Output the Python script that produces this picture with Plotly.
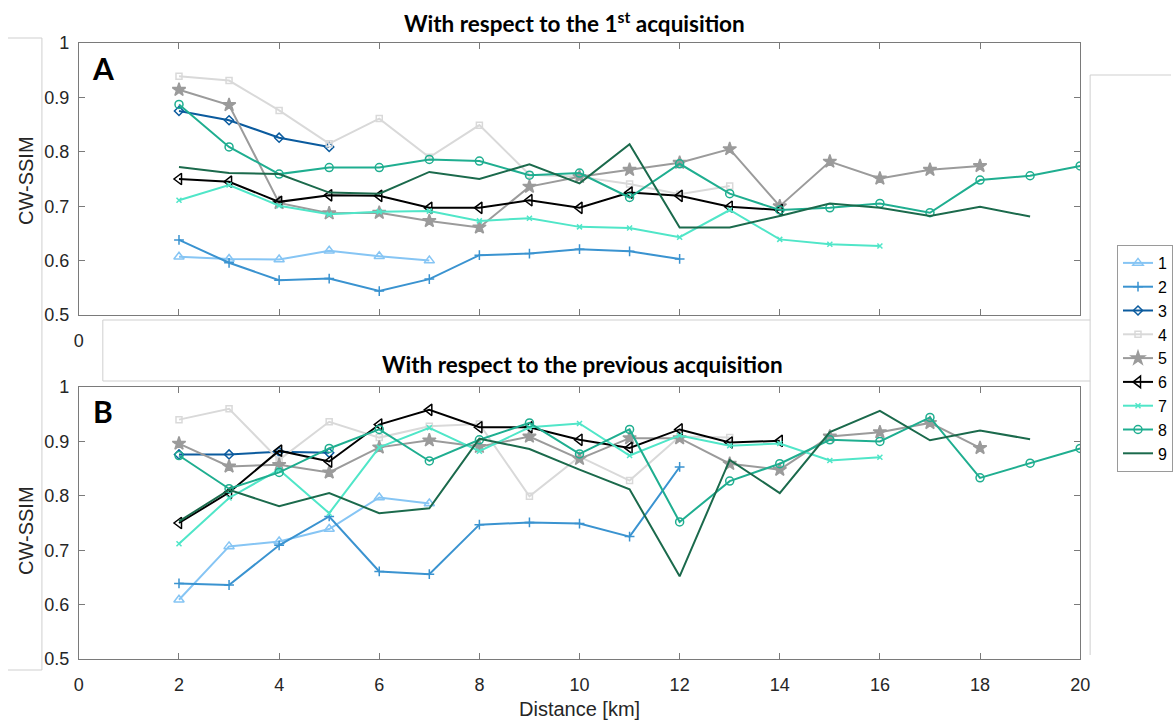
import plotly.graph_objects as go

W, H = 1173, 722

# ---------------- data ----------------
series_names = ["1", "2", "3", "4", "5", "6", "7", "8", "9"]
x_start = 2  # first distance (km) of every series

# Panel A: with respect to the 1st acquisition
a1 = [0.607, 0.603, 0.602, 0.618, 0.608, 0.600]
a2 = [0.638, 0.596, 0.564, 0.567, 0.544, 0.566, 0.610, 0.613, 0.621, 0.617, 0.603]
a3 = [0.875, 0.858, 0.826, 0.809]
a4 = [0.939, 0.931, 0.876, 0.815, 0.861, 0.790, 0.849, 0.758, 0.754, 0.741, 0.722, 0.737]
a5 = [0.914, 0.886, 0.706, 0.687, 0.688, 0.673, 0.661, 0.736, 0.754, 0.767, 0.780,
      0.805, 0.700, 0.782, 0.751, 0.767, 0.774]
a6 = [0.750, 0.745, 0.708, 0.720, 0.719, 0.697, 0.697, 0.711, 0.697, 0.725, 0.719, 0.699, 0.693]
a7 = [0.711, 0.739, 0.701, 0.685, 0.690, 0.691, 0.673, 0.678, 0.662, 0.660, 0.643,
      0.693, 0.639, 0.630, 0.627]
a8 = [0.887, 0.809, 0.759, 0.771, 0.771, 0.786, 0.783, 0.757, 0.761, 0.716, 0.778,
      0.723, 0.693, 0.697, 0.705, 0.688, 0.748, 0.756, 0.774]
a9 = [0.772, 0.761, 0.759, 0.725, 0.723, 0.763, 0.750, 0.777, 0.742, 0.814, 0.661,
      0.661, 0.682, 0.705, 0.697, 0.682, 0.699, 0.681]

# Panel B: with respect to the previous acquisition
b1 = [0.609, 0.707, 0.716, 0.739, 0.797, 0.786]
b2 = [0.639, 0.636, 0.709, 0.762, 0.661, 0.656, 0.747, 0.751, 0.749, 0.725, 0.853]
b3 = [0.876, 0.876, 0.881, 0.879]
b4 = [0.940, 0.960, 0.866, 0.936, 0.907, 0.928, 0.932, 0.799, 0.872, 0.828, 0.909, 0.907]
b5 = [0.896, 0.854, 0.857, 0.843, 0.889, 0.902, 0.890, 0.909, 0.868, 0.906, 0.906,
      0.859, 0.848, 0.909, 0.917, 0.934, 0.888]
b6 = [0.750, 0.806, 0.883, 0.863, 0.931, 0.958, 0.926, 0.926, 0.903, 0.888, 0.922, 0.898, 0.901]
b7 = [0.712, 0.796, 0.848, 0.768, 0.889, 0.925, 0.882, 0.926, 0.933, 0.874, 0.911,
      0.892, 0.896, 0.865, 0.871]
b8 = [0.874, 0.813, 0.843, 0.887, 0.922, 0.864, 0.903, 0.934, 0.877, 0.922, 0.752,
      0.827, 0.859, 0.903, 0.900, 0.944, 0.833, 0.860, 0.887]
b9 = [0.753, 0.811, 0.781, 0.805, 0.768, 0.777, 0.905, 0.886, 0.848, 0.812, 0.652,
      0.866, 0.805, 0.917, 0.956, 0.902, 0.920, 0.904]

panel_a = [a1, a2, a3, a4, a5, a6, a7, a8, a9]
panel_b = [b1, b2, b3, b4, b5, b6, b7, b8, b9]

x_ticks = [0, 2, 4, 6, 8, 10, 12, 14, 16, 18, 20]
y_ticks = [0.5, 0.6, 0.7, 0.8, 0.9, 1.0]
y_tick_text = ["0.5", "0.6", "0.7", "0.8", "0.9", "1"]

# ---------------- styles ----------------
colors = ["#86c5f4", "#3a93d0", "#0b5b9e", "#d9d9d9", "#9b9b9b",
          "#000000", "#50e6c8", "#1fae90", "#1b6a4c"]
symbols = ["triangle-up-open", "cross-thin", "diamond-open", "square-open", "star",
           "triangle-left-open", "x-thin", "circle-open", None]
sizes = [9, 7, 7, 6, 10, 10, 5, 8, 0]

SANS = "Liberation Sans"
TICK_FONT = dict(family=SANS, size=18, color="#262626")
AX_COLOR = "#7a7a7a"
DECO = "#cfcfcf"


def px_x(p):
    return p / W


def px_y(p):
    return 1 - p / H


fig = go.Figure()

for panel, (xa, ya, show) in zip([panel_a, panel_b], [("x", "y", True), ("x2", "y2", False)]):
    for i, vals in enumerate(panel):
        xs = list(range(x_start, x_start + len(vals)))
        if symbols[i] is None:
            mode = "lines"
            marker = None
        else:
            mode = "lines+markers"
            marker = dict(symbol=symbols[i], size=sizes[i], color=colors[i],
                          line=dict(color=colors[i], width=1.5))
        fig.add_trace(go.Scatter(
            x=xs, y=vals, mode=mode, name=series_names[i],
            line=dict(color=colors[i], width=2),
            marker=marker, xaxis=xa, yaxis=ya,
            legendgroup=series_names[i], showlegend=show,
        ))

x_dom = [px_x(79), px_x(1082)]
common_x = dict(range=[0, 20], tickvals=x_ticks, ticks="inside", ticklen=6,
                tickcolor=AX_COLOR, showline=True, linecolor=AX_COLOR, linewidth=1,
                mirror="ticks", showgrid=False, zeroline=False, tickfont=TICK_FONT,
                domain=x_dom, automargin=False, ticklabelstandoff=9)
common_y = dict(range=[0.5, 1.0], tickvals=y_ticks, ticktext=y_tick_text, ticks="inside",
                ticklen=6, tickcolor=AX_COLOR, showline=True, linecolor=AX_COLOR,
                linewidth=1, mirror="ticks", showgrid=False, zeroline=False,
                tickfont=TICK_FONT, automargin=False, ticklabelstandoff=5)

fig.update_layout(
    width=W, height=H,
    margin=dict(l=0, r=0, t=0, b=0),
    paper_bgcolor="white", plot_bgcolor="white",
    xaxis=dict(**common_x, anchor="y"),
    yaxis=dict(**common_y, domain=[px_y(315), px_y(43)], anchor="x"),
    xaxis2=dict(**common_x, anchor="y2"),
    yaxis2=dict(**common_y, domain=[px_y(659), px_y(387)], anchor="x2"),
    legend=dict(x=px_x(1119), y=px_y(245), xanchor="left", yanchor="top",
                bgcolor="white", bordercolor="#9a9a9a", borderwidth=1,
                font=dict(family=SANS, size=16, color="#000000"),
                tracegroupgap=0, itemwidth=30),
    showlegend=True,
)

# decorative frame lines from the composite figure
deco_lines = [
    (8, 38, 42, 38), (42, 38, 42, 670), (8, 670, 42, 670),
    (1092, 75, 1173, 75), (1092, 75, 1092, 320),
    (1092, 381, 1092, 655),
]
shapes = []
for x0, y0, x1, y1 in deco_lines:
    shapes.append(dict(type="line", xref="paper", yref="paper",
                       x0=px_x(x0), y0=px_y(y0), x1=px_x(x1), y1=px_y(y1),
                       line=dict(color=DECO, width=1), layer="above"))
# white title box of panel B (covers top panel's x tick labels)
shapes.append(dict(type="rect", xref="paper", yref="paper",
                   x0=px_x(103), y0=px_y(381), x1=px_x(1092), y1=px_y(320),
                   fillcolor="white", line=dict(color=DECO, width=1), layer="above"))
fig.update_layout(shapes=shapes)

TITLE_FONT = dict(family="Lato, Open Sans, sans-serif", size=22.5, color="#000000")
LABEL_FONT = dict(family=SANS, size=20, color="#262626")
annotations = [
    dict(text="<b>With respect to the 1<sup>st</sup> acquisition</b>", x=px_x(575), y=px_y(22),
         font=TITLE_FONT),
    dict(text="<b>With respect to the previous acquisition</b>", x=px_x(583), y=px_y(365),
         font=TITLE_FONT),
    dict(text="<b>A</b>", x=px_x(103), y=px_y(68), font=dict(family="Lato, sans-serif", size=30, color="#000")),
    dict(text="<b>B</b>", x=px_x(103), y=px_y(411), font=dict(family="Lato, sans-serif", size=30, color="#000")),
    dict(text="CW-SSIM", x=px_x(26), y=px_y(180), textangle=-90, font=LABEL_FONT),
    dict(text="CW-SSIM", x=px_x(26), y=px_y(530), textangle=-90, font=LABEL_FONT),
    dict(text="Distance [km]", x=px_x(580), y=px_y(709), font=LABEL_FONT),
]
for a in annotations:
    a.update(xref="paper", yref="paper", showarrow=False, xanchor="center", yanchor="middle")
fig.update_layout(annotations=annotations)

fig.write_html("out.html")
